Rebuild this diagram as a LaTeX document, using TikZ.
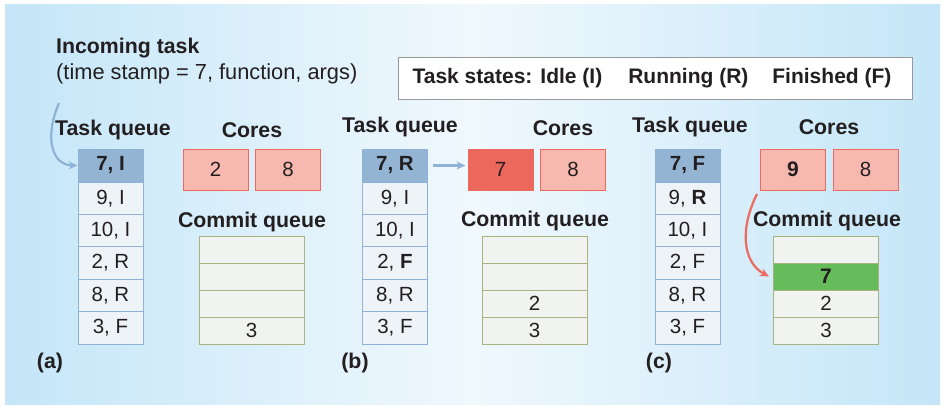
\documentclass[tikz,border=0pt]{standalone}
\usepackage{fontspec}
\setmainfont{Liberation Sans}
\usetikzlibrary{arrows.meta}
\definecolor{txt}{HTML}{231F20}
\definecolor{bgside}{HTML}{C4E6F8}
\definecolor{bgmid}{HTML}{F0F8FD}
\definecolor{qtop}{HTML}{93B5D3}
\definecolor{qline}{HTML}{8FB3D6}
\definecolor{qfill}{HTML}{EEF3F8}
\definecolor{corefill}{HTML}{F7B8B0}
\definecolor{coreline}{HTML}{EC6A5E}
\definecolor{coredark}{HTML}{EC675C}
\definecolor{cmfill}{HTML}{F0F3EF}
\definecolor{cmline}{HTML}{A9B37F}
\definecolor{green}{HTML}{66BB5A}
\tikzset{
  lab/.style={font=\fontsize{21.3}{24}\selectfont\bfseries, text=txt, inner sep=0pt},
  qcell/.style={draw=qline, line width=1pt, fill=qfill, minimum width=65pt, minimum height=32.4pt, inner sep=0pt, text=txt, font=\fontsize{20.5}{22}\selectfont},
  qhead/.style={qcell, fill=qtop, minimum height=33pt, font=\fontsize{20.5}{22}\selectfont\bfseries},
  core/.style={draw=coreline, line width=1pt, fill=corefill, minimum width=65pt, minimum height=41pt, inner sep=0pt, text=txt, font=\fontsize{20.5}{22}\selectfont},
  cmcell/.style={draw=cmline, line width=1pt, fill=cmfill, minimum width=105pt, minimum height=27pt, inner sep=0pt, text=txt, font=\fontsize{20.5}{22}\selectfont},
  bluearrow/.style={draw=qline, line width=2.2pt, -{Stealth[length=9pt,width=8pt]}},
  redarrow/.style={draw=coreline, line width=2.2pt, -{Stealth[length=9pt,width=8pt]}},
}
\begin{document}
\begin{tikzpicture}[x=1pt,y=-1pt]
\useasboundingbox (0,0) rectangle (942,405);
\fill[white] (0,0) rectangle (942,405);
\shade[left color=bgside, right color=bgside, middle color=bgmid] (5,4) rectangle (940,404);

% header
\node[lab, anchor=west] (inc) at (56,48) {Incoming task};
\node[inner sep=0pt, anchor=west, text=txt, font=\fontsize{21.8}{24}\selectfont] (incsub) at (56,74) {(time stamp = 7, function, args)};
\node[draw=black!40, line width=1pt, fill=white, minimum width=514pt, minimum height=42pt, inner sep=0pt] (states) at (655,78) {};
\node[inner sep=0pt, font=\fontsize{21}{24}\selectfont\bfseries, text=txt] (statestxt) at (652,78)
  {Task states:\hspace{8pt}Idle (I)\hspace{26pt}Running (R)\hspace{24pt}Finished (F)};

% ---------- panel (a)
\node[lab] (atq) at (113,130) {Task queue};
\node[lab] (aco) at (252,130) {Cores};
\node[lab] (acm) at (252,222) {Commit queue};
\node[lab] (ala) at (50,363) {(a)};
\node[qhead] (a1) at (110.5,165.5) {7, I};
\node[qcell] (a2) at (110.5,198.2) {9, I};
\node[qcell] (a3) at (110.5,230.6) {10, I};
\node[qcell] (a4) at (110.5,263) {2, R};
\node[qcell] (a5) at (110.5,295.4) {8, R};
\node[qcell] (a6) at (110.5,327.8) {3, F};
\node[core] (ac1) at (215.5,169.5) {2};
\node[core] (ac2) at (288,169.5) {8};
\node[cmcell] (am1) at (251.5,249.5) {};
\node[cmcell] (am2) at (251.5,276.5) {};
\node[cmcell] (am3) at (251.5,303.5) {};
\node[cmcell] (am4) at (251.5,330.5) {3};
\coordinate (ain) at (59,103);
\draw[bluearrow] (ain) .. controls (44,138) and (52,165) .. (a1.west);

% ---------- panel (b)
\node[lab] (btq) at (400,127) {Task queue};
\node[lab] (bco) at (563,128) {Cores};
\node[lab] (bcm) at (535,221) {Commit queue};
\node[lab] (bla) at (355,363) {(b)};
\node[qhead] (b1) at (395,165.5) {7, R};
\node[qcell] (b2) at (395,198.2) {9, I};
\node[qcell] (b3) at (395,230.6) {10, I};
\node[qcell] (b4) at (395,263) {2, \textbf{F}};
\node[qcell] (b5) at (395,295.4) {8, R};
\node[qcell] (b6) at (395,327.8) {3, F};
\node[core, fill=coredark] (bc1) at (500.5,169.5) {7};
\node[core] (bc2) at (573,169.5) {8};
\node[cmcell] (bm1) at (534.5,249.5) {};
\node[cmcell] (bm2) at (534.5,276.5) {};
\node[cmcell] (bm3) at (534.5,303.5) {2};
\node[cmcell] (bm4) at (534.5,330.5) {3};
\draw[bluearrow, shorten <=5pt, shorten >=2pt] (b1.east) -- (bc1.west |- b1.east);

% ---------- panel (c)
\node[lab] (ctq) at (690,127) {Task queue};
\node[lab] (cco) at (829,127) {Cores};
\node[lab] (ccm) at (827,221) {Commit queue};
\node[lab] (cla) at (659,363) {(c)};
\node[qhead] (c1) at (687.5,165.5) {7, F};
\node[qcell] (c2) at (687.5,198.2) {9, \textbf{R}};
\node[qcell] (c3) at (687.5,230.6) {10, I};
\node[qcell] (c4) at (687.5,263) {2, F};
\node[qcell] (c5) at (687.5,295.4) {8, R};
\node[qcell] (c6) at (687.5,327.8) {3, F};
\node[core, font=\fontsize{21}{22}\selectfont\bfseries] (cc1) at (793,169.5) {9};
\node[core] (cc2) at (865.5,169.5) {8};
\node[cmcell] (cm1) at (826,249.5) {};
\node[cmcell, fill=green, font=\fontsize{21}{22}\selectfont\bfseries] (cm2) at (826,276.5) {7};
\node[cmcell] (cm3) at (826,303.5) {2};
\node[cmcell] (cm4) at (826,330.5) {3};
\coordinate (cstart) at (757,194);
\draw[redarrow] (cstart) .. controls (740,228) and (742,262) .. ([xshift=-4pt]cm2.west);
\end{tikzpicture}
\end{document}
